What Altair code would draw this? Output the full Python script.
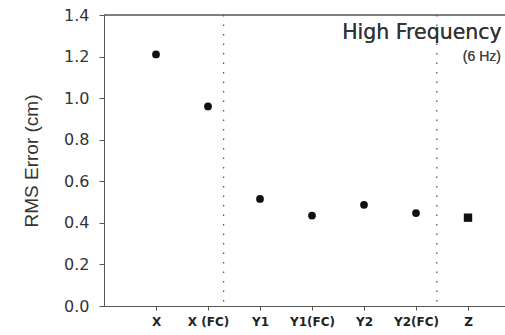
import altair as alt
import pandas as pd

categories = ["X", "X (FC)", "Y1", "Y1(FC)", "Y2", "Y2(FC)", "Z"]
rms_error = [1.21, 0.96, 0.515, 0.435, 0.487, 0.447, 0.425]
marker = ["circle", "circle", "circle", "circle", "circle", "circle", "square"]
separators = [2.3, 6.4]

df = pd.DataFrame({
    "cat": categories,
    "pos": list(range(1, len(categories) + 1)),
    "rms": rms_error,
    "shape": marker,
})
sep_df = pd.DataFrame({"x": separators})

label_map = "{" + ",".join(f"'{i+1}':'{c}'" for i, c in enumerate(categories)) + "}"

W, H = 401, 291
XMAX = W / 52.0
FONT = "Liberation Sans"
WIDE = "DejaVu Sans"

xscale = alt.Scale(domain=[0, XMAX], nice=False, zero=False)
yscale = alt.Scale(domain=[0, 1.4], nice=False)

points = alt.Chart(df).mark_point(filled=True, opacity=1, color="#111").encode(
    x=alt.X("pos:Q", scale=xscale,
            axis=alt.Axis(values=list(range(1, 8)), labelExpr=f"{label_map}[datum.value]",
                          title=None, grid=False, tickSize=4, labelPadding=6,
                          labelFontSize=12, labelFontWeight="bold", labelFont=WIDE,
                          labelColor="#222", domainColor="#555", tickColor="#555")),
    y=alt.Y("rms:Q", scale=yscale,
            axis=alt.Axis(values=[0, 0.2, 0.4, 0.6, 0.8, 1.0, 1.2, 1.4], format=".1f",
                          title="RMS Error (cm)", grid=False, tickSize=5, labelPadding=10,
                          labelFontSize=16, labelFont=WIDE, labelColor="#333",
                          titleFontSize=19, titleFont=FONT, titleFontWeight="normal",
                          titleColor="#333", titlePadding=22,
                          domainColor="#555", tickColor="#555")),
    shape=alt.Shape("shape:N", scale=alt.Scale(domain=["circle", "square"], range=["circle", "square"]), legend=None),
    size=alt.Size("shape:N", scale=alt.Scale(domain=["circle", "square"], range=[60, 70]), legend=None),
)

seps = alt.Chart(sep_df).mark_rule(color="#555", strokeDash=[1.5, 8], strokeWidth=1.3).encode(
    x=alt.X("x:Q", scale=xscale)
)

top_border = alt.Chart(sep_df).mark_rule(color="#555", strokeWidth=1).encode(
    x=alt.value(0), x2=alt.value(W), y=alt.value(0)
)

title1 = alt.Chart(sep_df).mark_text(text="High Frequency", align="left", baseline="middle",
                                     fontSize=20.5, font=WIDE, color="#333").encode(
    x=alt.datum(4.58, scale=xscale), y=alt.datum(1.313, scale=yscale)
)
title2 = alt.Chart(sep_df).mark_text(text="(6 Hz)", align="left", baseline="middle",
                                     fontSize=14, font=FONT, fontWeight="normal", color="#444").encode(
    x=alt.datum(6.9, scale=xscale), y=alt.datum(1.2, scale=yscale)
)

chart = alt.layer(seps, top_border, points, title1, title2).properties(
    width=W, height=H,
    autosize=alt.AutoSizeParams(type="none"),
    padding={"left": 104, "top": 15, "right": 0, "bottom": 29},
    background="white",
).configure_view(stroke=None)

chart.save("out.html", embed_options={"renderer": "svg", "actions": False})
